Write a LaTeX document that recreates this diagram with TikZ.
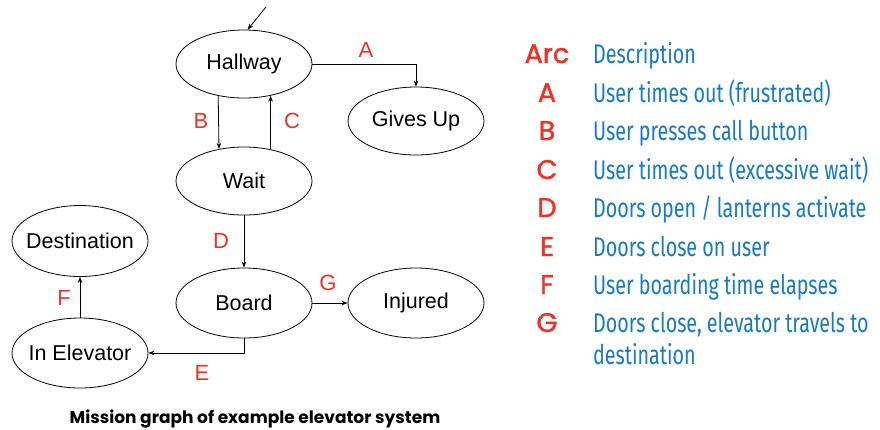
\documentclass[tikz,border=0pt]{standalone}
\usepackage{fontspec}
\setmainfont{Liberation Sans}
\newfontfamily\descfont[FakeStretch=0.73]{Fira Sans}
\newfontfamily\capfont{Poppins}
\newfontfamily\letterfont[FakeBold=1.6]{Poppins}
\usetikzlibrary{arrows.meta,shapes.geometric}
\definecolor{arcred}{RGB}{232,52,42}
\definecolor{descblue}{RGB}{22,122,196}
\tikzset{
  state/.style={ellipse,draw,line width=0.8pt,inner xsep=-14pt,inner ysep=0pt,minimum width=136pt,minimum height=68pt,font=\fontsize{21.5}{25}\selectfont},
  conn/.style={line width=0.8pt,-{Stealth[length=6pt,width=4.5pt]}},
  arclbl/.style={text=arcred,font=\fontsize{22}{26}\selectfont,inner sep=0pt},
  letter/.style={text=arcred,font=\letterfont\fontsize{27}{30}\selectfont,inner sep=0pt,anchor=base},
  desc/.style={text=descblue,font=\descfont\fontsize{27}{30}\selectfont,inner sep=0pt,anchor=base west,align=left},
}
\begin{document}
\begin{tikzpicture}[x=1pt,y=-1pt]
\useasboundingbox[fill=white] (0,0) rectangle (880,429);
% states
\node[state] (hall) at (244,64) {Hallway};
\node[state] (gives) at (416,121) {Gives Up};
\node[state] (wait) at (244,181) {Wait};
\node[state,minimum height=71pt] (dest) at (80,241) {Destination};
\node[state,minimum height=70pt] (board) at (244,303) {Board};
\node[state,minimum height=70pt] (injured) at (416,303) {Injured};
\node[state,minimum height=70pt] (inelev) at (80,353) {In Elevator};
% connectors
\coordinate (start) at (266,7);
\draw[conn] (start) -- (hall.84);
\draw[conn] (hall.east) -| (gives.north);
\draw[conn] (hall.231.6) -- (wait.128.4);
\draw[conn] (wait.50.4) -- (hall.-50.4);
\draw[conn] (wait.south) -- (board.north);
\draw[conn] (board.east) -- (injured.west);
\draw[conn] (board.south) |- (inelev.east);
\draw[conn] (inelev.north) -- (dest.south);
% arc labels
\node[arclbl] (la) at (366,50) {A};
\node[arclbl] (lb) at (201,121) {B};
\node[arclbl] (lc) at (292,121) {C};
\node[arclbl] (ld) at (221,241) {D};
\node[arclbl] (lg) at (328,283) {G};
\node[arclbl] (le) at (202,373) {E};
\node[arclbl] (lf) at (64,298) {F};
% legend
\node[letter] (harc) at (547,63) {Arc};
\node[desc] (hdesc) at (593,63) {Description};
\node[letter] (ka) at (547,102) {A};
\node[desc] (da) at (593,102) {User times out (frustrated)};
\node[letter] (kb) at (547,140) {B};
\node[desc] (db) at (593,140) {User presses call button};
\node[letter] (kc) at (547,179) {C};
\node[desc] (dc) at (593,179) {User times out (excessive wait)};
\node[letter] (kd) at (547,217) {D};
\node[desc] (dd) at (593,217) {Doors open / lanterns activate};
\node[letter] (ke) at (547,256) {E};
\node[desc] (de) at (593,256) {Doors close on user};
\node[letter] (kf) at (547,294) {F};
\node[desc] (df) at (593,294) {User boarding time elapses};
\node[letter] (kg) at (547,332) {G};
\node[desc] (dg) at (593,332) {Doors close, elevator travels to};
\node[desc] (dg2) at (593,364) {destination};
% caption
\node[font=\capfont\bfseries\fontsize{17}{20}\selectfont,anchor=base,inner sep=0pt] (cap) at (255,423) {Mission graph of example elevator system};
\end{tikzpicture}
\end{document}
